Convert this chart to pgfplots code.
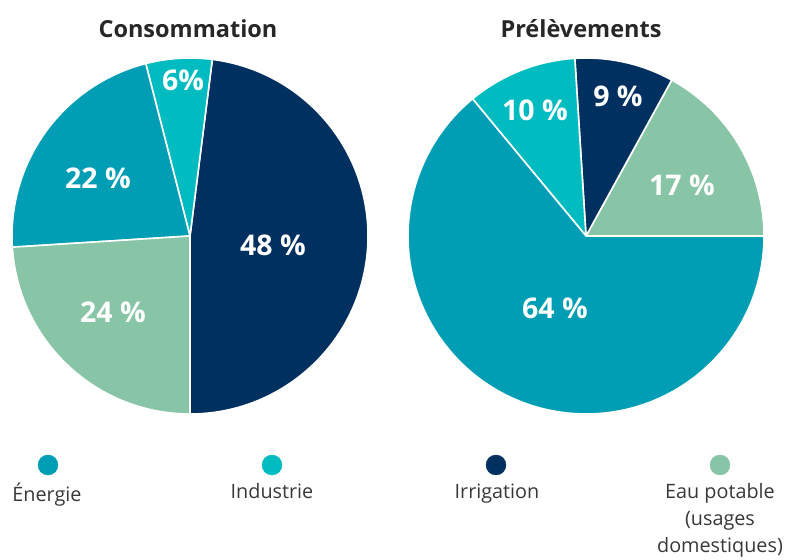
\documentclass[border=0pt]{standalone}
\usepackage{fontspec}
\setmainfont{Open Sans}
\usepackage{pgfplots}
\pgfplotsset{compat=1.18}
\definecolor{energ}{HTML}{009EB4}
\definecolor{indus}{HTML}{00BCC0}
\definecolor{irrig}{HTML}{00305F}
\definecolor{eau}{HTML}{88C4A6}
\definecolor{txt}{HTML}{383838}
\newcommand\slice[5]{%
  \fill[#5, draw=white, line width=1.6pt, line join=round] (axis cs:#1,#2) -- ++(#3:178pt) arc[start angle=#3, end angle=#4, radius=178pt] -- cycle;}
\newcommand\plabel[3]{\node[text=white, font=\fontsize{28.5}{31}\selectfont\bfseries] at (axis cs:#1,#2) {#3};}
\begin{document}
\begin{tikzpicture}
\useasboundingbox (0,0) rectangle (788pt,560pt);
\begin{axis}[
  at={(0,0)}, anchor=south west,
  scale only axis, width=788pt, height=560pt,
  xmin=0, xmax=788, ymin=0, ymax=560,
  hide axis, clip=false]
% Consommation (percent): Irrigation 48, Industrie 6, Energie 22, Eau potable 24
\slice{190}{324}{-90}{82.8}{irrig}
\slice{190}{324}{82.8}{104.4}{indus}
\slice{190}{324}{104.4}{183.6}{energ}
\slice{190}{324}{183.6}{270}{eau}
% Prelevements (percent): Eau potable 17, Irrigation 9, Industrie 10, Energie 64
\slice{586}{324}{0}{61.2}{eau}
\slice{586}{324}{61.2}{93.6}{irrig}
\slice{586}{324}{93.6}{129.6}{indus}
\slice{586}{324}{129.6}{360}{energ}
\plabel{273}{315}{48 \%}
\plabel{98}{382}{22 \%}
\plabel{183}{480}{6\%}
\plabel{113}{248}{24 \%}
\plabel{535}{450}{10 \%}
\plabel{618}{464}{9 \%}
\plabel{682}{375}{17 \%}
\plabel{555}{252}{64 \%}
\node[text=txt!70!black, font=\fontsize{23.5}{27}\selectfont\bfseries] at (axis cs:188,531) {Consommation};
\node[text=txt!70!black, font=\fontsize{23.5}{27}\selectfont\bfseries] at (axis cs:581,531) {Prélèvements};
\addplot[only marks, mark=*, mark size=10pt, draw=energ, fill=energ] coordinates {(48,95)};
\addplot[only marks, mark=*, mark size=10pt, draw=indus, fill=indus] coordinates {(272,95)};
\addplot[only marks, mark=*, mark size=10pt, draw=irrig, fill=irrig] coordinates {(496,95)};
\addplot[only marks, mark=*, mark size=10pt, draw=eau, fill=eau] coordinates {(720,95)};
\node[text=txt, font=\fontsize{19.8}{26.8}\selectfont, anchor=north] at (axis cs:47,80) {Énergie};
\node[text=txt, font=\fontsize{19.8}{26.8}\selectfont, anchor=north] at (axis cs:272,80) {Industrie};
\node[text=txt, font=\fontsize{19.8}{26.8}\selectfont, anchor=north] at (axis cs:497,80) {Irrigation};
\node[text=txt, font=\fontsize{19.8}{26.8}\selectfont, anchor=north, align=center] at (axis cs:720,80) {Eau potable\\(usages\\domestiques)};
\end{axis}
\end{tikzpicture}
\end{document}
